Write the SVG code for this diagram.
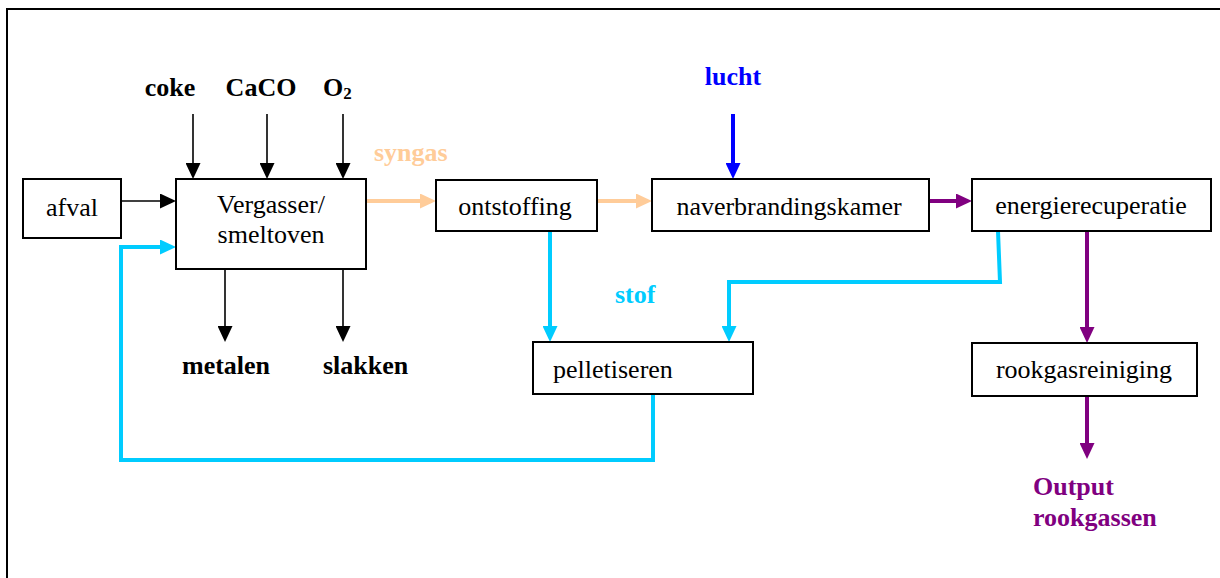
<svg xmlns="http://www.w3.org/2000/svg" width="1220" height="578" viewBox="0 0 1220 578">
  <style>
    .box { fill: #ffffff; stroke: #000000; stroke-width: 2; }
    .lbl { font-family: "Liberation Serif", "Times New Roman", serif; font-size: 26px; fill: #000000; }
    .bold { font-family: "Liberation Serif", "Times New Roman", serif; font-size: 26px; font-weight: bold; }
    .mid { text-anchor: middle; }
    .k { stroke: #000000; stroke-width: 1.6; fill: none; }
    .gas { stroke: #FFCC99; stroke-width: 4; fill: none; }
    .dust { stroke: #00CCFF; stroke-width: 4; fill: none; stroke-linejoin: miter; }
    .flue { stroke: #800080; stroke-width: 4; fill: none; }
    .air { stroke: #0000FF; stroke-width: 4; fill: none; }
  </style>
  <defs>
    <marker id="ah-k" viewBox="0 0 16 15" refX="6" refY="7.5" markerWidth="16" markerHeight="15" markerUnits="userSpaceOnUse" orient="auto">
      <path d="M0,0 L16,7.5 L0,15 z" fill="#000000"/>
    </marker>
    <marker id="ah-gas" viewBox="0 0 16 15" refX="6" refY="7.5" markerWidth="16" markerHeight="15" markerUnits="userSpaceOnUse" orient="auto">
      <path d="M0,0 L16,7.5 L0,15 z" fill="#FFCC99"/>
    </marker>
    <marker id="ah-dust" viewBox="0 0 16 15" refX="6" refY="7.5" markerWidth="16" markerHeight="15" markerUnits="userSpaceOnUse" orient="auto">
      <path d="M0,0 L16,7.5 L0,15 z" fill="#00CCFF"/>
    </marker>
    <marker id="ah-flue" viewBox="0 0 16 15" refX="6" refY="7.5" markerWidth="16" markerHeight="15" markerUnits="userSpaceOnUse" orient="auto">
      <path d="M0,0 L16,7.5 L0,15 z" fill="#800080"/>
    </marker>
    <marker id="ah-air" viewBox="0 0 16 15" refX="6" refY="7.5" markerWidth="16" markerHeight="15" markerUnits="userSpaceOnUse" orient="auto">
      <path d="M0,0 L16,7.5 L0,15 z" fill="#0000FF"/>
    </marker>
  </defs>

  <rect x="0" y="0" width="1220" height="578" fill="#ffffff"/>
  <!-- page frame (top and left edges) -->
  <path d="M7,578 L7,9 L1220,9" fill="none" stroke="#000000" stroke-width="2"/>

  <!-- connectors -->
  <g id="connectors">
    <!-- feed inputs -->
    <line class="k" x1="193" y1="114" x2="193" y2="169" marker-end="url(#ah-k)"/>
    <line class="k" x1="267" y1="114" x2="267" y2="169" marker-end="url(#ah-k)"/>
    <line class="k" x1="343" y1="114" x2="343" y2="169" marker-end="url(#ah-k)"/>
    <line class="k" x1="121" y1="201" x2="166" y2="201" marker-end="url(#ah-k)"/>
    <!-- outputs of the furnace -->
    <line class="k" x1="225" y1="269" x2="225" y2="332" marker-end="url(#ah-k)"/>
    <line class="k" x1="343" y1="269" x2="343" y2="332" marker-end="url(#ah-k)"/>
    <!-- syngas -->
    <line class="gas" x1="366" y1="201" x2="426" y2="201" marker-end="url(#ah-gas)"/>
    <line class="gas" x1="597" y1="201" x2="642" y2="201" marker-end="url(#ah-gas)"/>
    <!-- combustion air -->
    <line class="air" x1="733" y1="114" x2="733" y2="169" marker-end="url(#ah-air)"/>
    <!-- flue gas -->
    <line class="flue" x1="929" y1="201" x2="962" y2="201" marker-end="url(#ah-flue)"/>
    <line class="flue" x1="1087" y1="231" x2="1087" y2="333" marker-end="url(#ah-flue)"/>
    <line class="flue" x1="1087" y1="396" x2="1087" y2="449" marker-end="url(#ah-flue)"/>
    <!-- dust streams -->
    <line class="dust" x1="550" y1="231" x2="550" y2="332" marker-end="url(#ah-dust)"/>
    <polyline class="dust" points="998,231 1000,282 729,282 729,332" marker-end="url(#ah-dust)"/>
    <polyline class="dust" points="653,394 653,460 121,460 121,247 166,247" marker-end="url(#ah-dust)"/>
  </g>

  <!-- stream labels -->
  <g id="labels">
    <text class="bold mid" x="170" y="96" fill="#000000">coke</text>
    <text class="bold mid" x="261" y="96" fill="#000000">CaCO</text>
    <text class="bold" x="323" y="96" fill="#000000">O<tspan font-size="17" dy="3">2</tspan></text>
    <text class="bold" x="374" y="161" fill="#FFCC99">syngas</text>
    <text class="bold mid" x="733" y="85" fill="#0000FF">lucht</text>
    <text class="bold" x="615" y="303" fill="#00CCFF">stof</text>
    <text class="bold" x="182" y="374" fill="#000000">metalen</text>
    <text class="bold" x="323" y="374" fill="#000000">slakken</text>
    <text class="bold" x="1033" y="495" fill="#800080">Output</text>
    <text class="bold" x="1033" y="526" fill="#800080">rookgassen</text>
  </g>

  <!-- process units -->
  <g id="afval">
    <rect class="box" x="23" y="179" width="98" height="59"/>
    <text class="lbl mid" x="72" y="216">afval</text>
  </g>
  <g id="vergasser">
    <rect class="box" x="176" y="179" width="190" height="90"/>
    <text class="lbl mid" x="271" y="213">Vergasser/</text>
    <text class="lbl mid" x="271" y="243">smeltoven</text>
  </g>
  <g id="ontstoffing">
    <rect class="box" x="436" y="180" width="161" height="51"/>
    <text class="lbl mid" x="515" y="215">ontstoffing</text>
  </g>
  <g id="naverbrandingskamer">
    <rect class="box" x="652" y="179" width="277" height="52"/>
    <text class="lbl mid" x="789" y="215">naverbrandingskamer</text>
  </g>
  <g id="energierecuperatie">
    <rect class="box" x="972" y="179" width="239" height="52"/>
    <text class="lbl mid" x="1091" y="214">energierecuperatie</text>
  </g>
  <g id="pelletiseren">
    <rect class="box" x="533" y="342" width="220" height="52"/>
    <text class="lbl" x="553" y="378">pelletiseren</text>
  </g>
  <g id="rookgasreiniging">
    <rect class="box" x="972" y="343" width="225" height="53"/>
    <text class="lbl mid" x="1084" y="378">rookgasreiniging</text>
  </g>
</svg>
